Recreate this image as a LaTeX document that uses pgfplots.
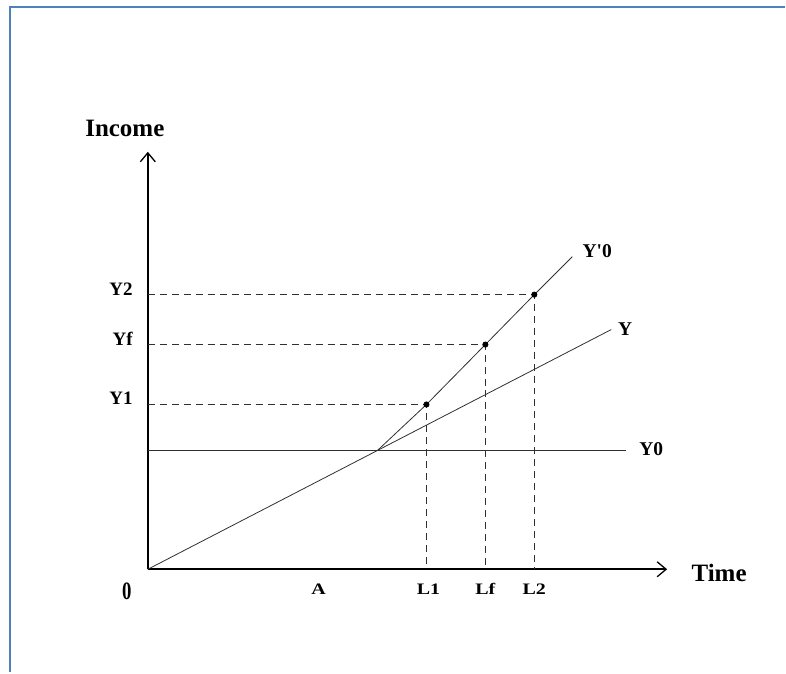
\documentclass[border=0pt]{standalone}
\usepackage{pgfplots}
\pgfplotsset{compat=1.18}
\usepackage{graphicx}
\usepackage{fontspec}
\setmainfont{Liberation Serif}
\newfontfamily\straight{Liberation Serif}[Ligatures=TeXOff]
\usetikzlibrary{arrows.meta}
\definecolor{frameblue}{HTML}{4F81BD}
\definecolor{lnc}{HTML}{303030}
\newcommand{\xl}[1]{\scalebox{1.25}[1]{\textbf{#1}}}
\tikzset{
  big/.style={font=\fontsize{25}{28}\selectfont\bfseries, inner sep=0pt, text height=16.5pt, text depth=0pt},
  mid/.style={font=\fontsize{19.5}{22}\selectfont\bfseries, inner sep=0pt, text height=12.9pt, text depth=0pt},
  ylab/.style={font=\fontsize{19}{21}\selectfont\bfseries, inner sep=0pt, text height=12.6pt, text depth=0pt, anchor=east},
  xlab/.style={font=\fontsize{16}{18}\selectfont\bfseries, inner sep=0pt, text height=10.6pt, text depth=0pt},
}
\begin{document}
\begin{tikzpicture}
\begin{axis}[
  x=1pt, y=1pt,
  xmin=0, xmax=520, ymin=0, ymax=418,
  axis lines=left,
  axis line style={line width=1.6pt, -{Straight Barb[length=9pt,width=15pt,line width=1.3pt]}},
  xtick=\empty, ytick=\empty,
  clip=false,
  every axis plot/.append style={line width=0.8pt, color=lnc},
]
% Y0 horizontal line
\addplot[no marks] coordinates {(0,119) (479,119)};
% Y line
\addplot[no marks] coordinates {(0,0) (230,119) (464,240)};
% Y'0 line
\addplot[no marks] coordinates {(230,119) (279,165) (338,225) (387,275) (425,313)};
% dashed guides
\addplot[no marks, dash pattern=on 7pt off 5pt] coordinates {(0,165) (279,165) (279,0)};
\addplot[no marks, dash pattern=on 7pt off 5pt] coordinates {(0,225) (338,225) (338,0)};
\addplot[no marks, dash pattern=on 7pt off 5pt] coordinates {(0,275) (387,275) (387,0)};
% points
\addplot[only marks, mark=*, mark size=2.6pt, color=black] coordinates {(279,165) (338,225) (387,275)};
% category labels
\node[xlab] at (axis cs:171,-19.5) {\xl{A}};
\node[xlab] at (axis cs:281,-19.5) {\xl{L1}};
\node[xlab] at (axis cs:338,-19.5) {\xl{Lf}};
\node[xlab] at (axis cs:387,-19.5) {\xl{L2}};
\node[ylab] at (axis cs:-15,171) {Y1};
\node[ylab] at (axis cs:-15,230) {Yf};
\node[ylab] at (axis cs:-15,280) {Y2};
% axis names and curve labels
\node[big] at (axis cs:-23,441.5) {Income};
\node[big] at (axis cs:572,-4) {Time};
\node[font=\fontsize{25}{28}\selectfont\bfseries, inner sep=0pt] at (axis cs:-21,-22) {\scalebox{0.75}[1]{0}};
\node[mid] at (axis cs:450,318.5) {\straight Y'0};
\node[mid] at (axis cs:478,240.5) {Y};
\node[mid] at (axis cs:504,120.5) {Y0};
\coordinate (BL) at (axis cs:-148,-103);
\coordinate (TR) at (axis cs:638,570);
\coordinate (FL) at (axis cs:-138,563);
\end{axis}
\path (BL) rectangle (TR);
\draw[frameblue, line width=2pt] (FL |- BL) -- (FL) -- (FL -| TR);
\end{tikzpicture}
\end{document}
